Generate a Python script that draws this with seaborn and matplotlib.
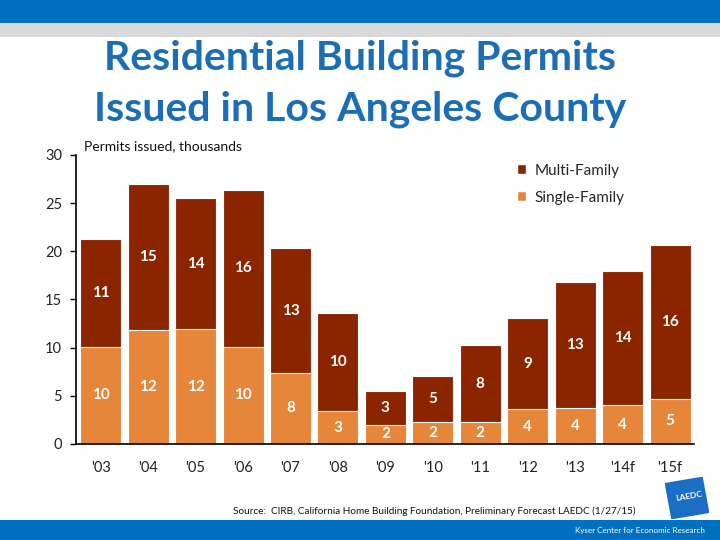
import matplotlib
matplotlib.use("Agg")
import matplotlib.pyplot as plt
from matplotlib.patches import Rectangle, Patch
import matplotlib.transforms as mtransforms
import seaborn as sns
import pandas as pd

years = ["'03", "'04", "'05", "'06", "'07", "'08", "'09", "'10", "'11", "'12", "'13", "'14f", "'15f"]
single_family = [10.1, 11.8, 11.9, 10.1, 7.4, 3.4, 2.0, 2.3, 2.25, 3.6, 3.7, 4.0, 4.7]
multi_family = [11.2, 15.2, 13.6, 16.3, 12.9, 10.2, 3.5, 4.75, 8.0, 9.45, 13.1, 13.95, 16.0]
sf_labels = ["10", "12", "12", "10", "8", "3", "2", "2", "2", "4", "4", "4", "5"]
mf_labels = ["11", "15", "14", "16", "13", "10", "3", "5", "8", "9", "13", "14", "16"]

MF_COLOR = "#8B2500"
SF_COLOR = "#E5863A"
BLUE = "#0070C0"
TITLE_BLUE = "#1B6EB5"

sns.set_theme(style="white")
plt.rcParams["font.family"] = ["Lato", "DejaVu Sans"]

df = pd.DataFrame({"year": years, "sf": single_family, "mf": multi_family})
df["total"] = df["sf"] + df["mf"]

fig = plt.figure(figsize=(7.2, 5.4), dpi=100)
ax = fig.add_axes([0.1056, 0.1778, 0.858, 0.5352])

sns.barplot(data=df, x="year", y="total", color=MF_COLOR, width=0.865,
            saturation=1, ax=ax, edgecolor="white", linewidth=0.8)
sns.barplot(data=df, x="year", y="sf", color=SF_COLOR, width=0.865,
            saturation=1, ax=ax, edgecolor="white", linewidth=0.8)

for i in range(len(years)):
    ax.text(i, single_family[i] / 2, sf_labels[i], ha="center", va="center",
            color="white", fontsize=11, fontweight="bold")
    ax.text(i, single_family[i] + multi_family[i] / 2, mf_labels[i], ha="center",
            va="center", color="white", fontsize=11, fontweight="bold")

ax.set_ylim(0, 30)
ax.set_xlim(-0.52, 12.5)
ax.set_yticks([0, 5, 10, 15, 20, 25, 30])
ax.set_xlabel("")
ax.set_ylabel("")
for s in ["top", "right"]:
    ax.spines[s].set_visible(False)
for s in ["left", "bottom"]:
    ax.spines[s].set_color("black")
    ax.spines[s].set_linewidth(1.2)
ax.tick_params(axis="y", left=True, length=4, width=1, color="black",
               labelsize=10.5, pad=6, labelcolor="#222222")
ax.tick_params(axis="x", bottom=False, labelsize=10.5, pad=6, labelcolor="#222222")

handles = [Patch(facecolor=MF_COLOR, label="Multi-Family"),
           Patch(facecolor=SF_COLOR, label="Single-Family")]
fig.legend(handles=handles, loc="upper left", bbox_to_anchor=(0.699, 0.7225),
           frameon=False, handlelength=0.6, handleheight=0.6, handletextpad=0.55,
           labelspacing=0.85, fontsize=11)

# header bands
fig.patches.append(Rectangle((0, 1 - 23 / 540), 1, 23 / 540, transform=fig.transFigure,
                             facecolor=BLUE, edgecolor="none", zorder=0))
fig.patches.append(Rectangle((0, 1 - 37 / 540), 1, 14 / 540, transform=fig.transFigure,
                             facecolor="#D9D9D9", edgecolor="none", zorder=0))
# footer band
fig.patches.append(Rectangle((0, 0), 1, 20 / 540, transform=fig.transFigure,
                             facecolor=BLUE, edgecolor="none", zorder=0))

fig.text(0.5, 1 - 58 / 540, "Residential Building Permits", ha="center", va="center",
         color=TITLE_BLUE, fontsize=29.5, fontweight="bold")
fig.text(0.5, 1 - 109 / 540, "Issued in Los Angeles County", ha="center", va="center",
         color=TITLE_BLUE, fontsize=29.5, fontweight="bold")

fig.text(84 / 720, 1 - 146 / 540, "Permits issued, thousands", ha="left", va="center",
         fontsize=10, color="#111111")

fig.text(233 / 720, 1 - 511 / 540,
         "Source:  CIRB, California Home Building Foundation, Preliminary Forecast LAEDC (1/27/15)",
         ha="left", va="center", fontsize=7.2, color="#111111")

fig.text(705 / 720, 1 - 530 / 540, "Kyser Center for Economic Research", ha="right",
         va="center", fontsize=5.8, color="white")

# LAEDC logo
logo_ax = fig.add_axes([665 / 720, 1 - 519 / 540, 44 / 720, 42 / 540])
logo_ax.set_xlim(0, 1)
logo_ax.set_ylim(0, 1)
logo_ax.axis("off")
rot = mtransforms.Affine2D().rotate_deg_around(0.5, 0.5, 10) + logo_ax.transData
logo_ax.add_patch(Rectangle((0.06, 0.06), 0.88, 0.88, facecolor="#1A6FC4",
                            edgecolor="none", transform=rot))
logo_ax.text(0.55, 0.55, "LAEDC", ha="center", va="center", color="white",
             fontsize=6, fontweight="bold", rotation=10)

fig.savefig("out.png", dpi=100)
